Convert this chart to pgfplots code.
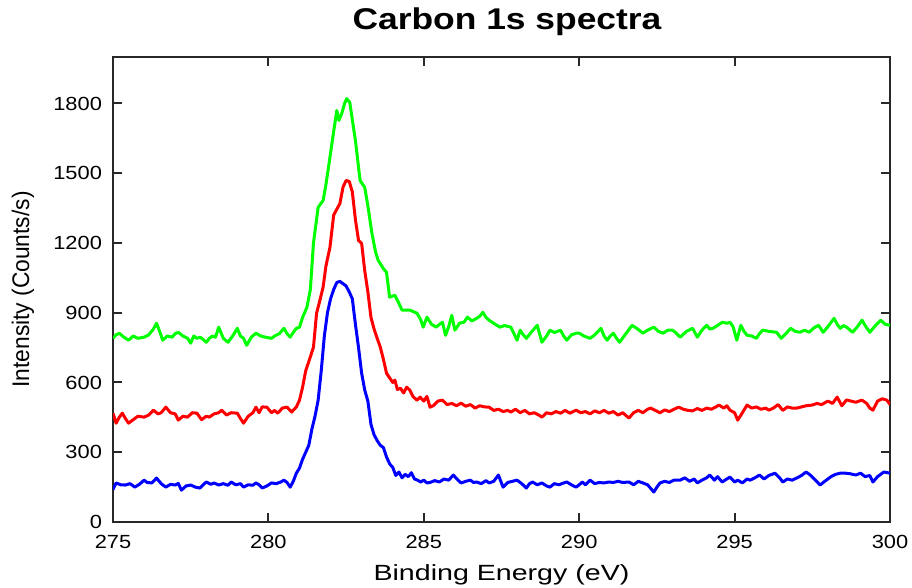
\documentclass[border=0pt]{standalone}
\usepackage{fontspec}
\setmainfont{Liberation Sans}
\newfontfamily\tickfont{Liberation Sans}[FakeStretch=1.15]
\newfontfamily\lblfont{Liberation Sans}[FakeStretch=1.3]
\newfontfamily\ylblfont{Liberation Sans}[FakeStretch=0.95]
\newfontfamily\titlefont{Liberation Sans}[FakeStretch=1.18]
\usepackage{pgfplots}
\pgfplotsset{compat=1.18}
\definecolor{pgreen}{RGB}{0,255,0}
\definecolor{pred}{RGB}{255,0,0}
\definecolor{pblue}{RGB}{0,0,255}
\definecolor{axc}{RGB}{40,40,40}
\begin{document}
\begin{tikzpicture}
\begin{axis}[
  name=ax,
  scale only axis,
  width=388.5pt, height=232.5pt,
  xmin=275, xmax=300, ymin=0, ymax=2000,
  xtick={275,280,285,290,295,300},
  ytick={0,300,600,900,1200,1500,1800},
  tick align=inside,
  major tick length=4.5pt,
  tick style={axc, line width=1pt},
  axis line style={axc, line width=1.1pt},
  /pgf/number format/assume math mode=true,
  /pgf/number format/1000 sep={},
  ticklabel style={font=\tickfont\fontsize{9.5}{11}\selectfont},
  xticklabel style={yshift=-3pt},
  yticklabel style={xshift=-2pt},
  xlabel={Binding Energy (eV)},
  ylabel={Intensity (Counts/s)},
  xlabel style={font=\lblfont\fontsize{11}{13}\selectfont, at={(axis description cs:0.5,-0.114)}, anchor=center},
  ylabel style={font=\ylblfont\fontsize{12}{14}\selectfont, at={(axis description cs:-0.1158,0.5)}, anchor=center},
  every axis plot/.append style={line width=1.5pt, line join=round},
]
\addplot[pgreen] coordinates {
(275.0,790)(275.1,805)(275.2,812)(275.35,795)(275.5,782)(275.65,800)(275.8,790)(276.0,795)(276.15,805)(276.3,830)(276.4,855)(276.5,820)(276.6,782)(276.75,800)(276.9,795)(277.0,810)(277.1,816)(277.25,800)(277.4,790)(277.5,769)(277.6,800)(277.7,790)(277.8,795)(277.9,785)(278.0,773)(278.1,790)(278.2,800)(278.3,795)(278.4,838)(278.55,790)(278.7,773)(278.85,800)(279.0,833)(279.1,800)(279.2,790)(279.3,760)(279.45,795)(279.6,812)(279.75,800)(279.9,795)(280.1,790)(280.2,800)(280.35,810)(280.5,833)(280.6,810)(280.7,795)(280.8,815)(280.9,833)(281.0,838)(281.1,880)(281.24,924)(281.35,1000)(281.45,1200)(281.6,1353)(281.76,1383)(281.85,1450)(281.98,1568)(282.1,1680)(282.2,1770)(282.27,1727)(282.37,1761)(282.45,1800)(282.52,1821)(282.62,1804)(282.7,1730)(282.8,1641)(282.95,1469)(283.1,1439)(283.2,1360)(283.33,1242)(283.45,1160)(283.53,1126)(283.7,1090)(283.8,1074)(283.9,967)(284.07,975)(284.2,940)(284.3,911)(284.45,911)(284.56,911)(284.66,905)(284.78,898)(284.9,870)(284.98,838)(285.1,881)(285.25,850)(285.4,838)(285.5,850)(285.6,859)(285.7,803)(285.8,840)(285.9,889)(286.0,825)(286.15,855)(286.3,860)(286.4,881)(286.55,865)(286.7,876)(286.8,885)(286.9,902)(287.0,880)(287.1,868)(287.3,850)(287.45,838)(287.6,845)(287.8,838)(287.9,810)(288.0,782)(288.1,825)(288.2,805)(288.3,790)(288.45,815)(288.65,846)(288.8,773)(288.95,800)(289.06,825)(289.2,815)(289.4,825)(289.5,800)(289.6,782)(289.75,805)(289.9,812)(290.0,812)(290.15,800)(290.35,790)(290.5,805)(290.7,833)(290.8,800)(290.9,782)(291.0,800)(291.1,812)(291.2,790)(291.3,773)(291.5,810)(291.7,846)(291.85,833)(292.05,812)(292.2,825)(292.4,838)(292.55,820)(292.7,812)(292.85,825)(293.0,825)(293.1,815)(293.25,795)(293.45,820)(293.65,833)(293.8,795)(293.95,825)(294.1,846)(294.2,830)(294.3,833)(294.45,845)(294.6,859)(294.75,855)(294.85,859)(294.95,840)(295.07,782)(295.2,846)(295.3,820)(295.4,803)(295.55,800)(295.7,790)(295.8,810)(295.9,825)(296.1,820)(296.35,816)(296.5,790)(296.65,810)(296.8,833)(296.95,820)(297.1,816)(297.25,825)(297.4,816)(297.55,835)(297.7,846)(297.85,816)(298.0,840)(298.2,876)(298.3,850)(298.4,833)(298.5,845)(298.6,838)(298.8,816)(298.95,840)(299.1,868)(299.2,845)(299.35,816)(299.5,840)(299.7,868)(299.85,850)(300.0,846)
};
\addplot[pred] coordinates {
(275.0,468)(275.1,425)(275.2,450)(275.3,468)(275.4,445)(275.5,425)(275.65,440)(275.8,455)(276.0,451)(276.15,460)(276.3,481)(276.45,465)(276.55,470)(276.7,494)(276.85,470)(277.0,465)(277.1,438)(277.25,455)(277.4,451)(277.55,470)(277.7,468)(277.85,440)(278.0,455)(278.1,451)(278.25,465)(278.4,470)(278.5,481)(278.65,460)(278.8,470)(279.0,468)(279.1,445)(279.2,425)(279.35,455)(279.5,470)(279.6,494)(279.7,470)(279.8,495)(279.95,494)(280.1,470)(280.2,480)(280.3,468)(280.45,490)(280.6,494)(280.75,473)(280.9,495)(281.0,524)(281.1,580)(281.2,650)(281.3,690)(281.45,752)(281.55,898)(281.65,950)(281.76,1010)(281.85,1100)(281.98,1181)(282.1,1320)(282.2,1345)(282.3,1370)(282.4,1440)(282.5,1469)(282.6,1465)(282.7,1420)(282.8,1300)(282.9,1211)(283.0,1198)(283.1,1080)(283.2,990)(283.3,880)(283.4,830)(283.5,790)(283.6,752)(283.7,700)(283.8,640)(283.9,620)(284.0,600)(284.07,610)(284.15,570)(284.25,575)(284.35,555)(284.45,580)(284.55,567)(284.65,540)(284.78,524)(284.88,537)(285.0,520)(285.1,540)(285.2,494)(285.3,500)(285.45,520)(285.6,524)(285.75,505)(285.9,510)(286.05,500)(286.2,511)(286.35,498)(286.5,505)(286.65,490)(286.8,500)(286.95,495)(287.1,494)(287.25,480)(287.4,485)(287.55,475)(287.7,480)(287.8,473)(287.95,485)(288.1,470)(288.25,480)(288.4,465)(288.55,470)(288.7,460)(288.8,451)(288.95,470)(289.1,465)(289.25,475)(289.4,468)(289.55,480)(289.7,468)(289.9,481)(290.05,470)(290.2,475)(290.35,465)(290.5,478)(290.65,470)(290.8,480)(290.95,468)(291.1,475)(291.25,460)(291.4,470)(291.6,447)(291.75,470)(291.9,480)(292.05,470)(292.2,485)(292.3,490)(292.45,480)(292.6,470)(292.75,482)(292.9,475)(293.05,485)(293.2,494)(293.35,485)(293.5,480)(293.65,478)(293.8,488)(293.95,480)(294.1,490)(294.25,485)(294.4,495)(294.5,503)(294.65,490)(294.75,500)(294.85,481)(295.0,470)(295.1,438)(295.25,470)(295.4,503)(295.55,490)(295.7,495)(295.85,485)(296.0,490)(296.1,481)(296.25,490)(296.4,505)(296.55,480)(296.7,495)(296.85,490)(297.0,490)(297.15,495)(297.3,500)(297.5,503)(297.65,510)(297.8,505)(298.0,520)(298.15,510)(298.3,537)(298.45,500)(298.6,525)(298.75,520)(298.9,515)(299.0,520)(299.1,524)(299.25,510)(299.35,490)(299.45,481)(299.6,520)(299.75,530)(299.9,524)(300.0,505)
};
\addplot[pblue] coordinates {
(275.0,140)(275.1,168)(275.25,160)(275.4,159)(275.55,165)(275.7,150)(275.85,162)(276.0,180)(276.1,170)(276.25,168)(276.4,189)(276.55,165)(276.7,150)(276.85,162)(277.0,159)(277.1,166)(277.2,137)(277.35,155)(277.5,159)(277.65,150)(277.8,146)(277.9,160)(278.0,172)(278.15,162)(278.25,168)(278.4,159)(278.55,165)(278.7,158)(278.8,172)(278.95,160)(279.1,165)(279.2,150)(279.35,160)(279.5,158)(279.6,168)(279.7,160)(279.8,146)(279.95,155)(280.1,168)(280.25,165)(280.4,172)(280.5,180)(280.6,170)(280.7,150)(280.8,175)(280.9,210)(281.0,232)(281.1,270)(281.2,300)(281.3,330)(281.4,400)(281.5,455)(281.6,524)(281.7,650)(281.8,800)(281.9,900)(282.0,960)(282.1,1000)(282.2,1030)(282.3,1035)(282.4,1025)(282.5,1015)(282.6,990)(282.7,960)(282.8,850)(282.9,750)(283.0,640)(283.1,567)(283.2,520)(283.3,420)(283.4,375)(283.5,350)(283.6,330)(283.7,320)(283.8,280)(283.9,250)(284.0,235)(284.1,200)(284.2,215)(284.3,190)(284.4,205)(284.5,195)(284.6,212)(284.7,185)(284.8,180)(284.9,172)(285.0,180)(285.1,168)(285.2,170)(285.35,178)(285.5,172)(285.65,185)(285.8,180)(285.95,202)(286.1,180)(286.2,168)(286.35,175)(286.5,180)(286.6,170)(286.7,172)(286.85,165)(287.0,178)(287.1,168)(287.25,175)(287.4,202)(287.55,150)(287.7,170)(287.85,175)(288.0,180)(288.15,165)(288.3,146)(288.4,165)(288.5,172)(288.65,160)(288.8,168)(288.95,155)(289.06,150)(289.2,165)(289.35,160)(289.5,168)(289.6,172)(289.75,160)(289.9,150)(290.0,160)(290.1,172)(290.2,160)(290.35,180)(290.5,165)(290.65,170)(290.8,168)(290.95,172)(291.1,170)(291.25,175)(291.4,170)(291.6,172)(291.75,160)(291.9,175)(292.05,168)(292.2,160)(292.4,129)(292.5,150)(292.6,168)(292.75,175)(292.9,170)(293.05,180)(293.25,180)(293.4,190)(293.55,175)(293.7,185)(293.8,168)(293.95,180)(294.1,190)(294.2,202)(294.35,180)(294.45,195)(294.6,172)(294.75,185)(294.85,193)(295.0,172)(295.1,180)(295.25,168)(295.4,185)(295.5,180)(295.65,190)(295.8,202)(295.95,185)(296.1,200)(296.3,210)(296.45,190)(296.55,172)(296.7,185)(296.85,180)(297.0,189)(297.15,200)(297.3,215)(297.45,200)(297.6,180)(297.75,159)(297.9,175)(298.1,195)(298.25,205)(298.4,210)(298.55,210)(298.7,208)(298.9,202)(299.05,210)(299.2,195)(299.35,200)(299.45,172)(299.6,195)(299.8,215)(300.0,210)
};
\end{axis}
\node[font=\titlefont\bfseries\fontsize{15}{18}\selectfont, anchor=center] at ([xshift=2.75pt, yshift=17.5pt]ax.north) {Carbon 1s spectra};
\pgfresetboundingbox
\path[use as bounding box] ([shift={(-56.5pt,-32.5pt)}]ax.south west) rectangle ([shift={(11pt,28.5pt)}]ax.north east);
\end{tikzpicture}
\end{document}
